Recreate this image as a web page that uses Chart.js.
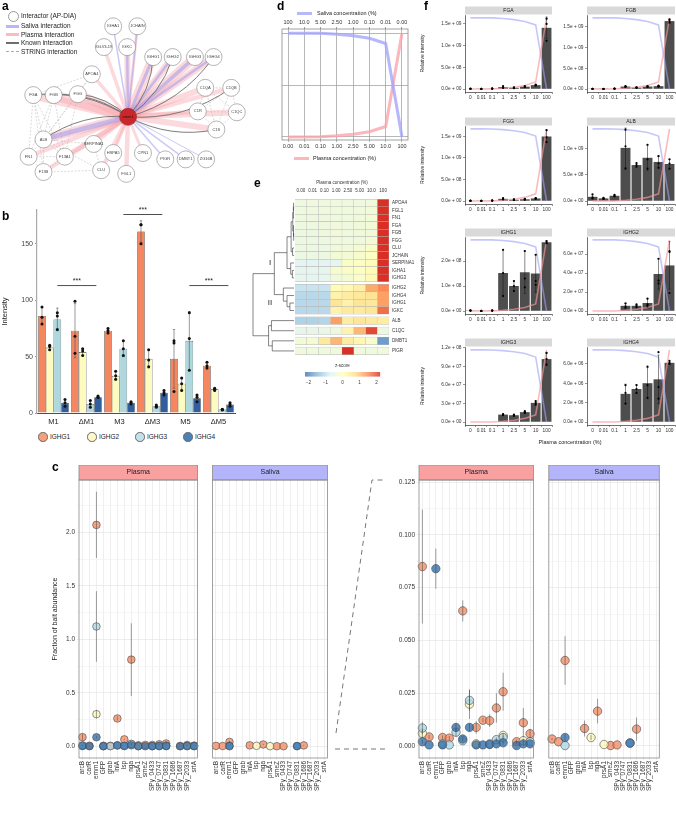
<!DOCTYPE html>
<html><head><meta charset="utf-8">
<script src="https://cdn.jsdelivr.net/npm/chart.js@4.4.1/dist/chart.umd.min.js"></script>
<style>
html,body{margin:0;padding:0;background:#fff;}
#root{position:relative;width:676px;height:815px;overflow:hidden;font-family:"Liberation Sans",Arial,Helvetica,sans-serif;color:#222;}
#root canvas{position:absolute;}
.t{position:absolute;white-space:nowrap;}
</style></head><body><div id="root"></div>
<script>
// ================= DATA =================
// ---- panel a : network ----
const netNodes = ['IGHA1','JCHAIN','IGLV3-19','IGKC','IGHG1','IGHG2','IGHG3','IGHG4','APOA4','FGA','FGB','FGG','C1QA','C1QB','C1QC','C1R','C1S','ALB','SERPINA1','FN1','F13A1','F13B','HSPA5','CPN1','CLU','FGL1','PIGR','DMBT1','ZG16B'];
const netX = [112,138,102,127,155,176,200,220,89,26,48,74,211,239,245,203,223,37,91,21,60,37,112,144,99,126,168,190,212];
const netY = [19,19,42,42,53,53,53,53,72,95,95,94,87,87,114,113,133,144,149,163,163,180,159,159,178,182,166,166,166];
const netPlasmaW = [0,3,3.5,6,9,7,9,7,3.5,9,10,9,6,4.5,6,4.5,6,9,3.5,4.5,4.5,4.5,3,3,4.5,4.5,0,0,0];
const netSalivaW = [1.5,1.5,0,2.5,3,2.5,3.5,2.5,0,0,0,0,0,0,0,0,0,5,0,0,0,0,0,0,0,0,1.5,1.5,1];
const netKnown = ['IGHG1','IGHG2','IGHG4','FGA','FGB','FGG','ALB','C1QB','C1S'];
const netString = [['FGA','FGB'],['FGA','FGG'],['FGB','FGG'],['FGA','ALB'],['FGB','ALB'],['FGG','ALB'],['FGA','FN1'],['FGA','F13A1'],['FGB','F13A1'],['FGG','F13A1'],['FGA','F13B'],['ALB','FN1'],['ALB','F13A1'],['ALB','F13B'],['FN1','F13A1'],['FN1','F13B'],['F13A1','F13B'],['APOA4','ALB'],['APOA4','FGA'],['APOA4','FGG'],['SERPINA1','ALB'],['SERPINA1','F13A1'],['CLU','ALB'],['CLU','F13B'],['CLU','SERPINA1'],['FGB','FN1'],['C1QA','C1QB'],['C1QA','C1QC'],['C1QB','C1QC'],['C1QA','C1R'],['C1QB','C1R'],['C1R','C1S'],['C1QC','C1S'],['C1QA','C1S'],['C1QB','C1S'],['C1QC','C1R']];
const baitName = 'emm1';
const baitXY = [128,119];

// ---- panel b : bar chart ----
const ighgNames = ['IGHG1','IGHG2','IGHG3','IGHG4'];
const bGroups = ['M1','ΔM1','M3','ΔM3','M5','ΔM5'];
const bMean1 = [86,73,73,161,48,42];
const bMean2 = [58,54,33,48,26,21];
const bMean3 = [83,8,57,6,64,3];
const bMean4 = [9,14,9,18,13,7.5];
const bSd1 = [7.5,24,2.5,9.5,26,3];
const bSd2 = [2,3,4,8,5,1.2];
const bSd3 = [10,3,7,1,26,0.5];
const bSd4 = [3,0.7,1,2.5,3,1.5];
const bReps1 = [[94,85,79],[99,68,53],[75,73,71],[167,167,150],[64,62,19],[45,42,40]];
const bReps2 = [[60,59,56],[57,55,51],[37,33,30],[56,47,41],[31,26,20],[22,21,20]];
const bReps3 = [[89,86,74],[11,8,5],[64,57,51],[7,6,5],[89,66,38],[3.3,3,2.6]];
const bReps4 = [[12,9,6],[15,14,14],[10,9,8],[20,18,16],[16,14,10],[9,7.5,6]];
const bTicks = [0,50,100,150];
const bSig = [[0,1,113],[2,3,176],[4,5,113]]; // IGHG3: group vs group, height

// ---- panel c : fraction of bait abundance ----
const cBaits = ['arcB','carR','emm1','GFP','grab','inlA','lsp','nga','prsA1','smeZ','SPy_0433','SPy_0747','SPy_0831','SPy_1686','SPy_1687','SPy_2033','srtA'];
const cPlasma1 = [0.085,0.0043,2.07,0.004,0.0037,0.26,0.064,0.81,0.0088,0.0122,0.012,0.018,0.0257,null,0.002,0.011,0.0058];
const cPlasma2 = [0.006,null,0.30,null,null,null,null,0.0198,0.001,null,null,null,0.005,null,null,0.0025,null];
const cPlasma3 = [0.0085,null,1.12,0.001,0.0005,0.0065,0.0025,0.0216,null,null,0.001,0.003,0.004,null,null,null,0.002];
const cPlasma4 = [0.002,0.0005,0.084,0.0005,null,0.0088,0.0033,0.0088,0.0005,0.0005,0.0007,0.001,0.0015,null,0.0002,0.001,0.001];
const cPlasmaSd1 = [0.027,0.001,0.31,0.001,0.001,0.02,0.005,0.34,0.003,0.001,0.003,0.007,0.009,null,0.001,0.007,0.002];
const cPlasmaSd2 = [0.002,null,0.04,null,null,null,null,0.007,null,null,null,null,0.001,null,null,0.001,null];
const cPlasmaSd3 = [0.003,null,0.33,null,null,0.002,null,0.005,null,null,null,0.001,0.001,null,null,null,null];
const cPlasmaSd4 = [0.001,null,0.0095,null,null,0.002,0.001,0.002,null,null,null,null,0.001,null,null,0.001,null];
const cSaliva1 = [0.0033,0.002,0.0405,null,null,0.0083,null,0.0165,null,0.0002,0.0005,null,null,0.008,null,null,null];
const cSaliva2 = [null,null,null,null,null,null,0.004,null,0.0007,null,null,null,null,null,null,null,null];
const cSaliva3 = [null,null,0.0002,null,null,null,null,null,null,null,null,null,0.0015,null,null,null,null];
const cSaliva4 = [null,null,0.004,null,null,null,null,null,null,null,null,null,0.0013,null,null,null,null];
const cSalivaSd1 = [0.0005,null,0.0115,null,null,0.0038,null,0.0058,null,null,null,null,null,0.0055,null,null,null];
const cSalivaSd2 = [null,null,null,null,null,null,0.0012,null,null,null,null,null,null,null,null,null,null];
const cSalivaSd3 = [null,null,null,null,null,null,null,null,null,null,null,null,null,null,null,null,null];
const cSalivaSd4 = [null,null,0.0015,null,null,null,null,null,null,null,null,null,null,null,null,null,null];
const cTicksFull = [0,0.25,0.5,0.75,1,1.25,1.5,1.75,2,2.25];
const cTicksZoom = [0,0.0125,0.025,0.0375,0.05,0.0625,0.075,0.0875,0.1,0.1125,0.125];

// ---- panel d : dilution series ----
const dPlasmaLabels = ['0.00','0.01','0.10','1.00','2.50','5.00','10.0','100'];
const dSalivaLabels = ['100','10.0','5.00','2.50','1.00','0.10','0.01','0.00'];
const plasmaPct = [0,0.01,0.1,1,2.5,5,10,100];
const salivaPct = [100,99.99,99.9,99,97.5,95,90,0];
const dYTicks = [0,50,100];

// ---- panel e : heatmap ----
const eCols = ['0.00','0.01','0.10','1.00','2.50','5.00','10.0','100'];
const eRows = ['APOA4','FGL1','FN1','FGA','FGB','FGG','CLU','JCHAIN','SERPINA1','IGHA1','IGHG3','IGHG2','IGHG4','IGHG1','IGKC','ALB','C1QC','DMBT1','PIGR'];
const eCluster = [1,1,1,1,1,1,1,1,1,1,1,2,2,2,2,3,4,5,6];
const eZ = [
 [-0.38,-0.38,-0.38,-0.38,-0.38,-0.38,-0.35,2.64],
 [-0.38,-0.38,-0.38,-0.38,-0.38,-0.38,-0.33,2.64],
 [-0.40,-0.40,-0.40,-0.38,-0.38,-0.35,-0.30,2.63],
 [-0.42,-0.42,-0.40,-0.36,-0.38,-0.35,-0.30,2.63],
 [-0.42,-0.42,-0.40,-0.35,-0.38,-0.35,-0.32,2.64],
 [-0.42,-0.42,-0.40,-0.36,-0.38,-0.37,-0.30,2.64],
 [-0.45,-0.45,-0.45,-0.35,-0.35,-0.25,-0.10,2.50],
 [-0.45,-0.45,-0.45,-0.30,-0.30,-0.20,-0.05,2.45],
 [-0.65,-0.65,-0.65,-0.60,-0.10,-0.05,0.10,2.30],
 [-0.60,-0.60,-0.60,-0.20,-0.10,-0.05,0.10,2.25],
 [-0.60,-0.60,-0.60,-0.35,-0.25,-0.15,0.15,2.20],
 [-0.95,-0.95,-0.95,0.10,0.20,0.35,1.20,1.50],
 [-1.10,-1.10,-1.10,0.30,0.45,0.55,0.65,1.30],
 [-1.10,-1.10,-1.10,0.60,0.30,0.60,0.55,1.30],
 [-1.10,-1.10,-1.10,0.30,0.50,0.50,0.60,1.70],
 [-1.20,-1.20,-1.15,1.30,0.45,0.60,0.50,0.40],
 [-0.55,-0.55,-0.50,-0.40,0.25,1.10,2.00,-0.45],
 [-0.30,-0.25,0.50,1.10,0.45,0.20,-0.20,-1.80],
 [-0.38,-0.38,-0.38,-0.38,2.64,-0.38,-0.38,-0.38]
];
// dendrogram: [left, right, height]; leaves are row indices
const eTree = [
  [
    [
      [[[[0,1,0.01],2,0.015],[3,[4,5,0.008],0.012],0.03],[6,7,0.035],0.07],
      [8,[9,10,0.04],0.08],
      0.17
    ],
    [11,[12,[13,14,0.1],0.17],0.26],
    0.48
  ],
  [[15,16,0.55],[17,18,0.53],0.62],
  1.0
];
const eScaleTicks = [-2,-1,0,1,2];

// ---- panel f : small multiples ----
const fConc = ['0','0.01','0.1','1','2.5','5','10','100'];
const fNames = ['FGA','FGB','FGG','ALB','IGHG1','IGHG2','IGHG3','IGHG4'];
const fMeanFGA = [0.005e9,0.002e9,0.01e9,0.045e9,0.03e9,0.055e9,0.09e9,1.41e9];
const fSdFGA = [0.004e9,0.001e9,0.004e9,0.02e9,0.01e9,0.012e9,0.01e9,0.25e9];
const fRepsFGA = [[0.01e9,0.004e9,0.001e9],[0.003e9,0.002e9,0.001e9],[0.015e9,0.01e9,0.006e9],[0.07e9,0.04e9,0.025e9],[0.04e9,0.03e9,0.02e9],[0.07e9,0.05e9,0.045e9],[0.1e9,0.09e9,0.08e9],[1.62e9,1.5e9,1.11e9]];
const fTicksFGA = [0,5e8,1e9,1.5e9];
const fMeanFGB = [0.003e9,0.001e9,0.008e9,0.06e9,0.035e9,0.06e9,0.07e9,1.64e9];
const fSdFGB = [0.002e9,0.001e9,0.003e9,0.01e9,0.005e9,0.01e9,0.01e9,0.04e9];
const fRepsFGB = [[0.005e9,0.003e9,0.001e9],[0.002e9,0.001e9,0.0005e9],[0.011e9,0.008e9,0.005e9],[0.07e9,0.06e9,0.05e9],[0.04e9,0.035e9,0.03e9],[0.07e9,0.06e9,0.05e9],[0.08e9,0.07e9,0.06e9],[1.68e9,1.64e9,1.6e9]];
const fTicksFGB = [0,5e8,1e9,1.5e9];
const fMeanFGG = [0.004e9,0.002e9,0.01e9,0.05e9,0.03e9,0.04e9,0.06e9,1.5e9];
const fSdFGG = [0.003e9,0.001e9,0.004e9,0.015e9,0.008e9,0.01e9,0.01e9,0.14e9];
const fRepsFGG = [[0.007e9,0.004e9,0.001e9],[0.003e9,0.002e9,0.001e9],[0.014e9,0.01e9,0.006e9],[0.065e9,0.05e9,0.035e9],[0.038e9,0.03e9,0.022e9],[0.05e9,0.04e9,0.03e9],[0.07e9,0.06e9,0.05e9],[1.65e9,1.48e9,1.37e9]];
const fTicksFGG = [0,5e8,1e9,1.5e9];
const fMeanALB = [0.08e9,0.05e9,0.1e9,1.02e9,0.69e9,0.83e9,0.75e9,0.71e9];
const fSdALB = [0.035e9,0.01e9,0.015e9,0.38e9,0.035e9,0.24e9,0.12e9,0.09e9];
const fRepsALB = [[0.13e9,0.07e9,0.05e9],[0.06e9,0.05e9,0.04e9],[0.12e9,0.1e9,0.09e9],[1.37e9,1.05e9,0.62e9],[0.73e9,0.69e9,0.66e9],[1.08e9,0.8e9,0.62e9],[0.86e9,0.72e9,0.64e9],[0.8e9,0.72e9,0.62e9]];
const fTicksALB = [0,5e8,1e9];
const fMeanIGHG1 = [0.02e8,0.003e8,0.02e8,1.52e8,1.0e8,1.55e8,1.5e8,2.75e8];
const fSdIGHG1 = [0.01e8,0.002e8,0.01e8,0.9e8,0.2e8,0.85e8,0.75e8,0.05e8];
const fRepsIGHG1 = [[0.03e8,0.02e8,0.01e8],[0.005e8,0.003e8,0.001e8],[0.03e8,0.02e8,0.01e8],[2.45e8,1.52e8,0.6e8],[1.2e8,1.0e8,0.8e8],[2.4e8,1.3e8,0.95e8],[2.25e8,1.2e8,1.05e8],[2.8e8,2.75e8,2.7e8]];
const fTicksIGHG1 = [0,1e8,2e8];
const fMeanIGHG2 = [0,0,0,0.55e7,0.55e7,0.85e7,3.9e7,4.8e7];
const fSdIGHG2 = [0,0,0,0.25e7,0.15e7,0.45e7,1.6e7,2.5e7];
const fRepsIGHG2 = [[],[],[],[0.8e7,0.5e7,0.35e7],[0.7e7,0.55e7,0.4e7],[1.3e7,0.7e7,0.55e7],[5.5e7,3.2e7,2.9e7],[6.3e7,6.2e7,1.9e7]];
const fTicksIGHG2 = [0,2e7,4e7,6e7];
const fMeanIGHG3 = [0,0,0,1.2e7,1.1e7,1.6e7,3.1e7,1.02e8];
const fSdIGHG3 = [0,0,0,0.1e7,0.1e7,0.15e7,0.3e7,0.1e8];
const fRepsIGHG3 = [[],[],[],[1.3e7,1.2e7,1.1e7],[1.2e7,1.1e7,1.0e7],[1.75e7,1.6e7,1.45e7],[3.4e7,3.1e7,2.8e7],[1.12e8,1.02e8,0.93e8]];
const fTicksIGHG3 = [0,3e7,6e7,9e7,1.2e8];
const fMeanIGHG4 = [0,0,0,2.9e6,3.4e6,4.0e6,4.4e6,6.1e6];
const fSdIGHG4 = [0,0,0,1.0e6,0.45e6,1.6e6,2.5e6,0.15e6];
const fRepsIGHG4 = [[],[],[],[3.8e6,3.0e6,1.9e6],[3.8e6,3.4e6,3.0e6],[5.7e6,3.8e6,2.5e6],[7.2e6,3.6e6,2.4e6],[6.3e6,6.1e6,6.0e6]];
const fTicksIGHG4 = [0,2e6,4e6,6e6];

// ================= SETUP =================
const FONT = '"Liberation Sans", Arial, Helvetica, sans-serif';
Chart.defaults.font.family = FONT;
Chart.defaults.color = '#333';
Chart.defaults.animation = false;
Chart.defaults.responsive = false;
Chart.defaults.maintainAspectRatio = false;
Chart.defaults.events = [];
Chart.defaults.plugins.legend.display = false;
Chart.defaults.plugins.tooltip.enabled = false;

const root = document.getElementById('root');
function cv(l,t,w,h){ const c=document.createElement('canvas'); c.width=w; c.height=h; c.style.left=l+'px'; c.style.top=t+'px'; c.style.width=w+'px'; c.style.height=h+'px'; root.appendChild(c); return c; }
function txt(s,x,y,size,extra){ const d=document.createElement('div'); d.className='t'; d.textContent=s; d.style.left=x+'px'; d.style.top=(y-size*0.6)+'px'; d.style.fontSize=size+'px'; d.style.lineHeight='1.2'; if(extra) Object.assign(d.style,extra); root.appendChild(d); return d; }
function box(x,y,w,h,extra){ const d=document.createElement('div'); d.style.position='absolute'; d.style.left=x+'px'; d.style.top=y+'px'; d.style.width=w+'px'; d.style.height=h+'px'; d.style.boxSizing='border-box'; if(extra) Object.assign(d.style,extra); root.appendChild(d); return d; }
const fixW = w => s => { s.width = w; };
const fixH = h => s => { s.height = h; };
const setTicks = arr => s => { s.ticks = arr.map(v => ({value:v})); };

// ================= PANEL A =================
const netPlugin = {
  id:'net',
  beforeDatasetsDraw(chart){
    const {ctx, scales:{x,y}} = chart;
    const P = n => { const i = netNodes.indexOf(n); return [x.getPixelForValue(netX[i]), y.getPixelForValue(netY[i])]; };
    const bx = x.getPixelForValue(baitXY[0]), by = y.getPixelForValue(baitXY[1]);
    ctx.save();
    ctx.lineCap='butt';
    ctx.setLineDash([2,1.5]); ctx.strokeStyle='#b5b5b5'; ctx.lineWidth=0.5;
    netString.forEach(([a,b])=>{ const p=P(a), q=P(b); ctx.beginPath(); ctx.moveTo(p[0],p[1]); ctx.lineTo(q[0],q[1]); ctx.stroke(); });
    ctx.setLineDash([]);
    netNodes.forEach((n,i)=>{ if(!netPlasmaW[i]) return; const p=P(n); ctx.strokeStyle='rgba(248,165,172,0.42)'; ctx.lineWidth=netPlasmaW[i]; ctx.beginPath(); ctx.moveTo(bx,by); ctx.lineTo(p[0],p[1]); ctx.stroke(); });
    netNodes.forEach((n,i)=>{ if(!netSalivaW[i]) return; const p=P(n); ctx.strokeStyle='rgba(150,150,240,0.5)'; ctx.lineWidth=netSalivaW[i]; ctx.beginPath(); ctx.moveTo(bx,by); ctx.lineTo(p[0],p[1]); ctx.stroke(); });
    ctx.strokeStyle='#6e6e6e'; ctx.lineWidth=0.9;
    netKnown.forEach(n=>{ const p=P(n); const mx=(bx+p[0])/2, my=(by+p[1])/2; const dx=p[0]-bx, dy=p[1]-by; const cx=mx-dy*0.18, cy=my+dx*0.18; ctx.beginPath(); ctx.moveTo(bx,by); ctx.quadraticCurveTo(cx,cy,p[0],p[1]); ctx.stroke(); });
    ctx.restore();
  },
  afterDatasetsDraw(chart){
    const {ctx, scales:{x,y}} = chart;
    ctx.save(); ctx.textAlign='center'; ctx.textBaseline='middle'; ctx.fillStyle='#444'; ctx.font='4px '+FONT;
    netNodes.forEach((n,i)=>ctx.fillText(n, x.getPixelForValue(netX[i]), y.getPixelForValue(netY[i])));
    ctx.fillStyle='#3a0a0a'; ctx.fillText(baitName, x.getPixelForValue(baitXY[0]), y.getPixelForValue(baitXY[1]));
    ctx.restore();
  }
};
new Chart(cv(0,0,258,192), {
  type:'scatter',
  data:{datasets:[
    {data: netNodes.map((n,i)=>({x:netX[i], y:netY[i]})), pointRadius:8.5, pointBackgroundColor:'#fff', pointBorderColor:'#858585', pointBorderWidth:0.6, clip:false},
    {data: [{x:baitXY[0], y:baitXY[1]}], pointRadius:8.5, pointBackgroundColor:'#c8282c', pointBorderColor:'#a31e22', pointBorderWidth:0.6, clip:false}
  ]},
  options:{devicePixelRatio:1, layout:{padding:0}, scales:{x:{display:false,min:0,max:258}, y:{display:false,min:0,max:192,reverse:true}}},
  plugins:[netPlugin]
});
box(7.5,10.5,11,11,{border:'0.8px solid #999',borderRadius:'50%',background:'#fff'});
txt('Interactor (AP-DIA)',21,16,6.5);
box(6,24.5,13,3,{background:'rgba(160,160,245,0.75)'}); txt('Saliva interaction',21,26,6.5);
box(6,32.5,13,3,{background:'rgba(248,165,172,0.75)'}); txt('Plasma interaction',21,34.5,6.5);
box(6,42.2,13,1.6,{background:'#6e6e6e'}); txt('Known interaction',21,43,6.5);
box(6,50.5,13,1,{borderTop:'0.8px dashed #aaa'}); txt('STRING interaction',21,51.5,6.5);

// ================= PANEL B =================
const bColors = ['#F4875F','#FEFBBE','#AED8DD','#2F5F9F'];
const bMeans = [bMean1,bMean2,bMean3,bMean4], bSds=[bSd1,bSd2,bSd3,bSd4], bReps=[bReps1,bReps2,bReps3,bReps4];
const bPlugin = {
  id:'bextra',
  afterDatasetsDraw(chart){
    const {ctx, scales:{y}} = chart;
    ctx.save();
    bMeans.forEach((m,i)=>{
      const meta = chart.getDatasetMeta(i);
      meta.data.forEach((bar,j)=>{
        const x = bar.x, lo = y.getPixelForValue(m[j]-bSds[i][j]), hi = y.getPixelForValue(m[j]+bSds[i][j]);
        ctx.strokeStyle='#555'; ctx.lineWidth=0.6;
        ctx.beginPath(); ctx.moveTo(x,lo); ctx.lineTo(x,hi); ctx.moveTo(x-1.2,lo); ctx.lineTo(x+1.2,lo); ctx.moveTo(x-1.2,hi); ctx.lineTo(x+1.2,hi); ctx.stroke();
        ctx.fillStyle='#111';
        bReps[i][j].forEach(v=>{ ctx.beginPath(); ctx.arc(x, y.getPixelForValue(v), 1.5, 0, Math.PI*2); ctx.fill(); });
      });
    });
    const meta3 = chart.getDatasetMeta(2);
    ctx.strokeStyle='#222'; ctx.lineWidth=0.8; ctx.fillStyle='#222'; ctx.font='7px '+FONT; ctx.textAlign='center'; ctx.textBaseline='bottom';
    bSig.forEach(([a,b,h])=>{
      const x1 = meta3.data[a].x, x2 = meta3.data[b].x + 6, yy = y.getPixelForValue(h);
      ctx.beginPath(); ctx.moveTo(x1,yy); ctx.lineTo(x2,yy); ctx.stroke();
      ctx.fillText('***',(x1+x2)/2, yy-0.5);
    });
    ctx.restore();
  }
};
new Chart(cv(0,200,240,230), {
  type:'bar',
  data:{labels:bGroups, datasets: bMeans.map((m,i)=>({label:ighgNames[i], data:m, backgroundColor:bColors[i], borderColor:'#333', borderWidth:0.6, categoryPercentage:0.93, barPercentage:1}))},
  options:{devicePixelRatio:1,
    layout:{padding:{top:10,right:5,bottom:3,left:0}},
    scales:{
      x:{grid:{display:false,drawTicks:false}, border:{color:'#222',width:0.8}, ticks:{font:{size:7.5},color:'#222',padding:4}, afterFit:fixH(14)},
      y:{min:0,max:180, afterBuildTicks:setTicks(bTicks), ticks:{font:{size:7},color:'#444',padding:2}, grid:{display:true,drawOnChartArea:false,tickLength:2,color:'#999'}, border:{color:'#aaa',width:1.2}, title:{display:true,text:'Intensity',font:{size:7.5},color:'#222',padding:{top:0,bottom:3}}, afterFit:fixW(37)}
    }},
  plugins:[bPlugin]
});
const legFill = ['#F4A07C','#FDF8C8','#C3E1EA','#4A82B8'];
[43,92,140,188].forEach((cx,i)=>{ box(cx-4.7,437-4.7,9.4,9.4,{border:'0.7px solid #666',borderRadius:'50%',background:legFill[i]}); txt(ighgNames[i],cx+7,437,6.5); });

// ================= PANEL C =================
const cFill = ['rgba(242,140,100,0.78)','rgba(252,246,185,0.78)','rgba(172,214,228,0.78)','rgba(52,112,172,0.8)'];
function facetPlugin(label, color){
  return {id:'facet', afterDraw(chart){
    const {ctx, chartArea:a} = chart;
    ctx.save();
    ctx.fillStyle=color; ctx.fillRect(a.left,a.top-15,a.right-a.left,15);
    ctx.strokeStyle='#8a8a8a'; ctx.lineWidth=0.8; ctx.strokeRect(a.left,a.top-15,a.right-a.left,15);
    ctx.strokeRect(a.left,a.top,a.right-a.left,a.bottom-a.top);
    ctx.fillStyle='#222'; ctx.font='7px '+FONT; ctx.textAlign='center'; ctx.textBaseline='middle';
    ctx.fillText(label,(a.left+a.right)/2,a.top-7.5);
    ctx.restore();
  }};
}
function errPlugin(series, errs){
  return {id:'cerr', afterDatasetsDraw(chart){
    const {ctx, chartArea:a, scales:{x,y}} = chart;
    ctx.save(); ctx.beginPath(); ctx.rect(a.left,a.top,a.right-a.left,a.bottom-a.top); ctx.clip();
    ctx.strokeStyle='rgba(70,70,70,0.75)'; ctx.lineWidth=0.7;
    series.forEach((arr,i)=>arr.forEach((v,j)=>{ const e=errs[i][j]; if(v==null||e==null) return; const px=x.getPixelForValue(j); ctx.beginPath(); ctx.moveTo(px,y.getPixelForValue(v-e)); ctx.lineTo(px,y.getPixelForValue(v+e)); ctx.stroke(); }));
    ctx.restore();
  }};
}
function cFacet(o){
  const yW = o.yW;
  new Chart(cv(o.areaL - yW, 465, yW + o.areaW, 350), {
    type:'line',
    data:{labels:cBaits, datasets:o.series.map((arr,i)=>({data:arr, showLine:false, pointRadius:o.r, pointBackgroundColor:cFill[i], pointBorderColor:'#4a4a4a', pointBorderWidth:0.6, order:3-i}))},
    options:{devicePixelRatio:1,
      layout:{padding:{top:15,left:0,right:0,bottom:0}},
      scales:{
        x:{offset:true, grid:{offset:false,color:'#e4e4e4',lineWidth:0.6,drawTicks:true,tickLength:2}, border:{display:false},
           ticks:{autoSkip:false,minRotation:90,maxRotation:90,font:{size:6.5},color:'#333',padding:1}, afterFit:fixH(57)},
        y:{min:o.min, max:o.max, afterBuildTicks:setTicks(o.ticks),
           ticks:{display:o.showY, font:{size:6.5}, color:'#333', padding:2, callback:v=>{ const r=v/o.labStep; return Math.abs(r-Math.round(r))<1e-6 ? v.toFixed(o.dec) : ''; }},
           grid:{color:c=>{ const v=c.tick?c.tick.value:0; const r=v/o.labStep; return Math.abs(r-Math.round(r))<1e-6 ? '#e0e0e0' : '#f0f0f0'; }, lineWidth:0.6, drawTicks:o.showY, tickLength:2},
           border:{display:false},
           title:{display:!!o.title, text:o.title||'', font:{size:7}, color:'#222', padding:{top:0,bottom:4}},
           afterFit:fixW(yW)}
      }},
    plugins:[facetPlugin(o.strip,o.stripColor), errPlugin(o.series,o.errs)]
  });
}
const plasmaSeries = [cPlasma1,cPlasma2,cPlasma3,cPlasma4], plasmaErr=[cPlasmaSd1,cPlasmaSd2,cPlasmaSd3,cPlasmaSd4];
const salivaSeries = [cSaliva1,cSaliva2,cSaliva3,cSaliva4], salivaErr=[cSalivaSd1,cSalivaSd2,cSalivaSd3,cSalivaSd4];
const PLC='#F9A0A0', SAC='#B4B4FA';
cFacet({areaL:79,areaW:124,yW:28,showY:true,title:'Fraction of bait abundance',series:plasmaSeries,errs:plasmaErr,min:-0.11,max:2.49,ticks:cTicksFull,labStep:0.5,dec:1,r:3.8,strip:'Plasma',stripColor:PLC});
cFacet({areaL:208,areaW:125,yW:0,showY:false,series:salivaSeries,errs:salivaErr,min:-0.11,max:2.49,ticks:cTicksFull,labStep:0.5,dec:1,r:3.8,strip:'Saliva',stripColor:SAC});
cFacet({areaL:419,areaW:120,yW:30,showY:true,series:plasmaSeries,errs:plasmaErr,min:-0.0057,max:0.126,ticks:cTicksZoom,labStep:0.025,dec:3,r:4.2,strip:'Plasma',stripColor:PLC});
cFacet({areaL:544,areaW:121,yW:0,showY:false,series:salivaSeries,errs:salivaErr,min:-0.0057,max:0.126,ticks:cTicksZoom,labStep:0.025,dec:3,r:4.2,strip:'Saliva',stripColor:SAC});
(function(){ const ns='http://www.w3.org/2000/svg'; const s=document.createElementNS(ns,'svg'); s.setAttribute('width','676'); s.setAttribute('height','815'); s.style.position='absolute'; s.style.left='0'; s.style.top='0';
  ['336,733 372,480 384,480','335,749 386,749'].forEach(p=>{ const l=document.createElementNS(ns,'polyline'); l.setAttribute('points',p); l.setAttribute('fill','none'); l.setAttribute('stroke','#777'); l.setAttribute('stroke-width','1'); l.setAttribute('stroke-dasharray','5,4'); s.appendChild(l); });
  root.appendChild(s); })();

// ================= PANEL D =================
const borderPlugin = {id:'bord', afterDraw(chart){ const {ctx,chartArea:a}=chart; ctx.save(); ctx.strokeStyle='#8a8a8a'; ctx.lineWidth=0.8; ctx.strokeRect(a.left,a.top,a.right-a.left,a.bottom-a.top); ctx.restore(); }};
new Chart(cv(262,0,160,155), {
  type:'line',
  data:{datasets:[
    {data:salivaPct.map((v,i)=>({x:i,y:v})), borderColor:'rgba(165,165,250,0.8)', borderWidth:3, pointRadius:0},
    {data:plasmaPct.map((v,i)=>({x:i,y:v})), borderColor:'rgba(250,165,170,0.8)', borderWidth:3, pointRadius:0}
  ]},
  options:{devicePixelRatio:1,
    layout:{padding:{top:18,left:20,right:14,bottom:4}},
    scales:{
      x:{type:'linear',position:'bottom',min:-0.37,max:7.37, afterBuildTicks:setTicks(dPlasmaLabels.map((_,i)=>i)), ticks:{callback:(v,i)=>dPlasmaLabels[i],font:{size:5.5},color:'#333',padding:1,maxRotation:0,autoSkip:false}, grid:{color:'#9a9a9a',lineWidth:0.7,tickLength:2}, border:{display:false}, afterFit:fixH(11)},
      x2:{type:'linear',position:'top',min:-0.37,max:7.37, afterBuildTicks:setTicks(dSalivaLabels.map((_,i)=>i)), ticks:{callback:(v,i)=>dSalivaLabels[i],font:{size:5.5},color:'#333',padding:1,maxRotation:0,autoSkip:false}, grid:{display:true,drawOnChartArea:false,tickLength:2,color:'#9a9a9a'}, border:{display:false}, afterFit:fixH(11)},
      y:{min:-3,max:104, afterBuildTicks:setTicks(dYTicks), ticks:{display:false}, grid:{color:'#9a9a9a',lineWidth:0.7,drawTicks:false}, border:{display:false}, afterFit:fixW(0)}
    }},
  plugins:[borderPlugin]
});
box(297,11.5,15,3,{background:'rgba(165,165,250,0.8)'}); txt('Saliva concentration (%)',317,13,5.5);
box(294,156.5,15,3,{background:'rgba(250,165,170,0.8)'}); txt('Plasma concentration (%)',313,158,5.5);

// ================= PANEL E =================
const rdylbu = ['#4575B4','#91BFDB','#E0F3F8','#FFFFBF','#FEE090','#FC8D59','#D73027'];
const eRange = [-2.2,2.2];
function hex(c){ return [parseInt(c.slice(1,3),16),parseInt(c.slice(3,5),16),parseInt(c.slice(5,7),16)]; }
function zColor(z){ let t=(z-eRange[0])/(eRange[1]-eRange[0]); t=Math.max(0,Math.min(1,t)); const f=t*(rdylbu.length-1); const i=Math.min(rdylbu.length-2,Math.floor(f)); const u=f-i; const a=hex(rdylbu[i]), b=hex(rdylbu[i+1]); return 'rgb('+a.map((v,k)=>Math.round(v+(b[k]-v)*u)).join(',')+')'; }
const ePos = []; (function(){ let p=0; eCluster.forEach((c,i)=>{ if(i>0 && c!==eCluster[i-1]) p+=0.35; ePos.push(p+0.5); p+=1; }); ePos.total=p; })();
const ePlugin = {id:'dendro', afterDraw(chart){
  const {ctx, chartArea:a, scales:{y}} = chart;
  const xLeaf = a.left-1, k=41;
  ctx.save(); ctx.strokeStyle='#333'; ctx.lineWidth=0.6; ctx.beginPath();
  (function lay(n){ if(typeof n==='number') return {y:y.getPixelForValue(ePos[n]),h:0};
    const l=lay(n[0]), r=lay(n[1]), h=n[2], X=v=>xLeaf-v*k;
    ctx.moveTo(X(l.h),l.y); ctx.lineTo(X(h),l.y); ctx.lineTo(X(h),r.y); ctx.lineTo(X(r.h),r.y);
    return {y:(l.y+r.y)/2,h}; })(eTree);
  ctx.stroke();
  ctx.fillStyle='#222'; ctx.font='8px '+FONT; ctx.textAlign='center'; ctx.textBaseline='middle';
  ctx.fillText('I', a.left-25, y.getPixelForValue(ePos[8]));
  ctx.fillText('II', a.left-25, y.getPixelForValue((ePos[11]+ePos[14])/2)+4);
  ctx.fillStyle='#333'; ctx.font='4.5px '+FONT;
  ctx.fillText('Plasma concentration (%)',(a.left+a.right)/2,a.top-12.5);
  const x0=a.left+10, x1=a.left+85, yb=a.bottom+13;
  for(let px=x0; px<x1; px+=0.5){ ctx.fillStyle=zColor(eRange[0]+(px-x0)/(x1-x0)*(eRange[1]-eRange[0])); ctx.fillRect(px,yb,0.6,4.5); }
  ctx.fillStyle='#333';
  ctx.fillText('z-score',(x0+x1)/2,yb-6);
  eScaleTicks.forEach(v=>ctx.fillText(String(v).replace('-','−'), x0+(v-eRange[0])/(eRange[1]-eRange[0])*(x1-x0), yb+11));
  ctx.restore();
}};
new Chart(cv(240,172,190,220), {
  type:'bar',
  data:{datasets:eCols.map((c,ci)=>({data:eRows.map((r,ri)=>({x:[ci,ci+1],y:ePos[ri]})), backgroundColor:eRows.map((r,ri)=>zColor(eZ[ri][ci])), borderColor:'#b4b4b4', borderWidth:0.5, grouped:false, barPercentage:1, categoryPercentage:1}))},
  options:{devicePixelRatio:1, indexAxis:'y',
    layout:{padding:{top:9,left:55,right:0,bottom:33}},
    scales:{
      x:{type:'linear',position:'top',min:0,max:8, afterBuildTicks:setTicks(eCols.map((_,i)=>i+0.5)), ticks:{callback:(v,i)=>eCols[i],font:{size:4.5},color:'#333',padding:2,maxRotation:0,autoSkip:false}, grid:{display:false,drawTicks:false}, border:{display:false}, afterFit:fixH(14)},
      y:{type:'linear',position:'right',reverse:true,min:0,max:ePos.total, afterBuildTicks:setTicks(ePos), ticks:{callback:(v,i)=>eRows[i],font:{size:4.5},color:'#333',padding:3,autoSkip:false}, grid:{display:false,drawTicks:false}, border:{display:false}, afterFit:fixW(41)}
    }},
  plugins:[ePlugin]
});

// ================= PANEL F =================
function sci(v){ if(v===0) return '0.0e + 00'; const e=Math.floor(Math.log10(Math.abs(v))+1e-9); const m=v/Math.pow(10,e); return m.toFixed(1)+'e + '+String(e).padStart(2,'0'); }
const fData = {
  FGA:[fMeanFGA,fSdFGA,fRepsFGA,fTicksFGA,1.705e9], FGB:[fMeanFGB,fSdFGB,fRepsFGB,fTicksFGB,1.787e9],
  FGG:[fMeanFGG,fSdFGG,fRepsFGG,fTicksFGG,1.744e9], ALB:[fMeanALB,fSdALB,fRepsALB,fTicksALB,1.44e9],
  IGHG1:[fMeanIGHG1,fSdIGHG1,fRepsIGHG1,fTicksIGHG1,2.96e8], IGHG2:[fMeanIGHG2,fSdIGHG2,fRepsIGHG2,fTicksIGHG2,7.79e7],
  IGHG3:[fMeanIGHG3,fSdIGHG3,fRepsIGHG3,fTicksIGHG3,1.216e8], IGHG4:[fMeanIGHG4,fSdIGHG4,fRepsIGHG4,fTicksIGHG4,7.73e6]
};
function fChart(name, col, row){
  const [mean,sd,reps,ticks,ymax] = fData[name];
  const areaL = col===0 ? 465 : 587, areaR = col===0 ? 552 : 675;
  const areaT = [15,126,237,347][row], areaB = [92,204,314,425][row];
  const yW = col===0 ? 45 : 32;
  const left = areaL - yW;
  const plug = {id:'fx', afterDatasetsDraw(chart){
    const {ctx, chartArea:a, scales:{y}} = chart; const meta = chart.getDatasetMeta(0);
    ctx.save();
    ctx.fillStyle='#d9d9d9'; ctx.fillRect(a.left,a.top-8.5,a.right-a.left,8);
    ctx.fillStyle='#222'; ctx.font='5px '+FONT; ctx.textAlign='center'; ctx.textBaseline='middle'; ctx.fillText(name,(a.left+a.right)/2,a.top-4.3);
    meta.data.forEach((bar,j)=>{ const x=bar.x;
      if(sd[j]>0){ const lo=y.getPixelForValue(Math.max(0,mean[j]-sd[j])), hi=y.getPixelForValue(mean[j]+sd[j]);
        ctx.strokeStyle='#111'; ctx.lineWidth=0.5; ctx.beginPath(); ctx.moveTo(x,lo); ctx.lineTo(x,hi); ctx.moveTo(x-1,lo); ctx.lineTo(x+1,lo); ctx.moveTo(x-1,hi); ctx.lineTo(x+1,hi); ctx.stroke(); }
      ctx.fillStyle='#000'; reps[j].forEach(v=>{ ctx.beginPath(); ctx.arc(x,y.getPixelForValue(v),1.1,0,Math.PI*2); ctx.fill(); });
    });
    ctx.restore(); }};
  new Chart(cv(left, areaT-10, areaR-left+1, areaB-areaT+10+13), {
    type:'bar',
    data:{labels:fConc, datasets:[
      {type:'bar', data:mean, backgroundColor:'#4d4d4d', categoryPercentage:0.9, barPercentage:1, order:2},
      {type:'line', data:plasmaPct, yAxisID:'y2', borderColor:'rgba(248,150,155,0.65)', borderWidth:1.6, pointRadius:0, order:1},
      {type:'line', data:salivaPct, yAxisID:'y2', borderColor:'rgba(160,160,248,0.6)', borderWidth:1.6, pointRadius:0, order:1}
    ]},
    options:{devicePixelRatio:1,
      layout:{padding:{top:10,right:1,bottom:0,left:0}},
      scales:{
        x:{grid:{display:true,drawOnChartArea:false,tickLength:2,color:'#333',lineWidth:0.5}, border:{color:'#111',width:0.6}, ticks:{font:{size:4.8},color:'#333',padding:1,maxRotation:0,autoSkip:false}, afterFit:fixH(13)},
        y:{min:-0.04*ymax, max:ymax, afterBuildTicks:setTicks(ticks), ticks:{callback:v=>sci(v),font:{size:4.8},color:'#333',padding:1.5}, grid:{display:true,drawOnChartArea:false,tickLength:2,color:'#333',lineWidth:0.5}, border:{color:'#111',width:0.6},
           title:{display:col===0,text:'Relative intensity',font:{size:5},color:'#222',padding:{top:0,bottom:3}}, afterFit:fixW(yW)},
        y2:{display:false,min:-4.16,max:104}
      }},
    plugins:[plug]
  });
}
fNames.forEach((n,i)=>fChart(n, i%2, Math.floor(i/2)));
txt('Plasma concentration (%)',570,442,5.5,{transform:'translateX(-50%)'});

// ================= PANEL LETTERS =================
[['a',2,6],['b',2,216],['c',52,467],['d',277,6],['e',254,183],['f',424,6]].forEach(([l,x,y])=>txt(l,x,y,12,{fontWeight:'bold',color:'#000'}));
</script></body></html>
